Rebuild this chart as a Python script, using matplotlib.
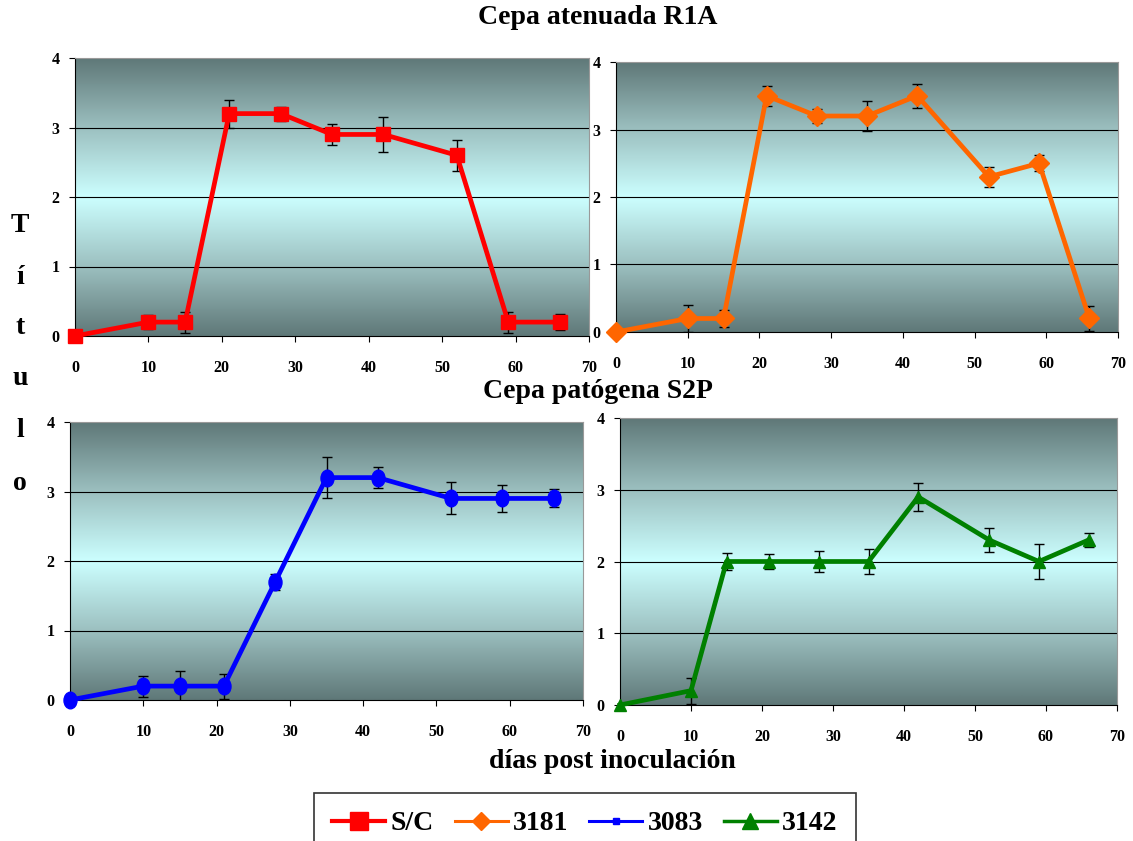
import numpy as np
import matplotlib
matplotlib.use("Agg")
import matplotlib.pyplot as plt
from matplotlib.colors import LinearSegmentedColormap
from matplotlib.lines import Line2D
from matplotlib.path import Path

plt.rcParams['font.family'] = ['Liberation Serif', 'DejaVu Serif']
plt.rcParams['font.weight'] = 'bold'

# Days post inoculation
days = [0, 10, 15, 21, 28, 35, 42, 52, 59, 66]

# Titre per isolate, with error
sc_vals = [0, 0.2, 0.2, 3.2, 3.2, 2.9, 2.9, 2.6, 0.2, 0.2]
sc_err = [0, 0.1, 0.15, 0.2, 0.1, 0.15, 0.25, 0.22, 0.15, 0.12]

i3181_vals = [0, 0.2, 0.2, 3.5, 3.2, 3.2, 3.5, 2.3, 2.5, 0.2]
i3181_err = [0, 0.2, 0.12, 0.15, 0.1, 0.22, 0.18, 0.15, 0.12, 0.18]

i3083_vals = [0, 0.2, 0.2, 0.2, 1.7, 3.2, 3.2, 2.9, 2.9, 2.9]
i3083_err = [0, 0.15, 0.22, 0.18, 0.12, 0.3, 0.15, 0.23, 0.2, 0.13]

i3142_vals = [0, 0.2, 2.0, 2.0, 2.0, 2.0, 2.9, 2.3, 2.0, 2.3]
i3142_err = [0, 0.18, 0.12, 0.1, 0.15, 0.18, 0.2, 0.17, 0.25, 0.1]

labels = ['S/C', '3181', '3083', '3142']
x_ticks = [0, 10, 20, 30, 40, 50, 60, 70]
y_ticks = [0, 1, 2, 3, 4]

W, H = 1133, 841
fig = plt.figure(figsize=(W / 100, H / 100), dpi=100)


def frac(l, r, t, b):
    return [l / W, 1 - b / H, (r - l) / W, (b - t) / H]


bg = LinearSegmentedColormap.from_list(
    'bg', [(0.0, '#5f7878'), (0.25, '#9cc0c0'), (0.5, '#ccffff'),
           (0.75, '#9cc0c0'), (1.0, '#5f7878')])
grad = np.linspace(0, 1, 256).reshape(-1, 1)

# upright oval marker
circ = Path.unit_circle()
oval = Path(circ.vertices * np.array([0.78, 1.0]), circ.codes)


def panel(rect, vals, err, color, marker, ms):
    ax = fig.add_axes(rect)
    ax.imshow(grad, cmap=bg, aspect='auto', extent=[0, 1, 0, 1],
              transform=ax.transAxes, zorder=0, interpolation='bilinear')
    ax.set_xlim(0, 70)
    ax.set_ylim(0, 4)
    for g in [1, 2, 3]:
        ax.axhline(g, color='black', lw=0.8, zorder=1)
    ax.errorbar(days, vals, yerr=err, fmt='none', ecolor='black',
                elinewidth=1.0, capsize=3.5, capthick=1.0, zorder=2)
    ax.plot(days, vals, color=color, lw=3.4, marker=marker,
            ms=ms, mec=color, mfc=color, zorder=3, clip_on=False)
    ax.set_xticks(x_ticks)
    ax.set_yticks(y_ticks)
    ax.tick_params(axis='x', direction='out', length=4, pad=13,
                   labelsize=11.5, width=0.8)
    ax.tick_params(axis='y', direction='out', length=4, pad=7,
                   labelsize=11.5, width=0.8)
    for lab in ax.get_xticklabels() + ax.get_yticklabels():
        lab.set_fontweight('bold')
    ax.spines['left'].set_color('black')
    ax.spines['bottom'].set_color('black')
    ax.spines['top'].set_color('#999999')
    ax.spines['right'].set_color('#999999')
    return ax


panel(frac(75, 589, 58, 336), sc_vals, sc_err, '#ff0000', 's', 10.5)
panel(frac(616, 1118, 62, 332), i3181_vals, i3181_err, '#ff6600', 'D', 10.5)
panel(frac(70, 583, 422, 700), i3083_vals, i3083_err, '#0000ff', oval, 12)
panel(frac(620, 1117, 418, 705), i3142_vals, i3142_err, '#008000', '^', 9)

fig.text(598 / W, 1 - 18 / H, 'Cepa atenuada R1A', ha='center', va='center',
         fontsize=20, fontweight='bold')
fig.text(598 / W, 1 - 392 / H, 'Cepa patógena S2P', ha='center', va='center',
         fontsize=20, fontweight='bold')
fig.text(612 / W, 1 - 762 / H, 'días post inoculación', ha='center', va='center',
         fontsize=20, fontweight='bold')

for ch, yy in zip('Título', [225, 278, 328, 378, 430, 483]):
    fig.text(20 / W, 1 - yy / H, ch, ha='center', va='center',
             fontsize=20, fontweight='bold')

handles = [
    Line2D([], [], color='#ff0000', lw=3, marker='s', ms=13),
    Line2D([], [], color='#ff6600', lw=2.2, marker='D', ms=9),
    Line2D([], [], color='#0000ff', lw=2.2, marker='s', ms=5),
    Line2D([], [], color='#008000', lw=2.5, marker='^', ms=11),
]
leg = fig.legend(handles=handles, labels=labels, loc='upper center',
                 bbox_to_anchor=(585 / W, 1 - 793 / H), ncol=4, frameon=True,
                 fancybox=False, edgecolor='black', fontsize=20,
                 handlelength=1.9, columnspacing=0.75, handletextpad=0.2,
                 borderpad=0.65, borderaxespad=0)
leg.get_frame().set_linewidth(1.2)
for t in leg.get_texts():
    t.set_fontweight('bold')

fig.savefig('out.png', dpi=100)
